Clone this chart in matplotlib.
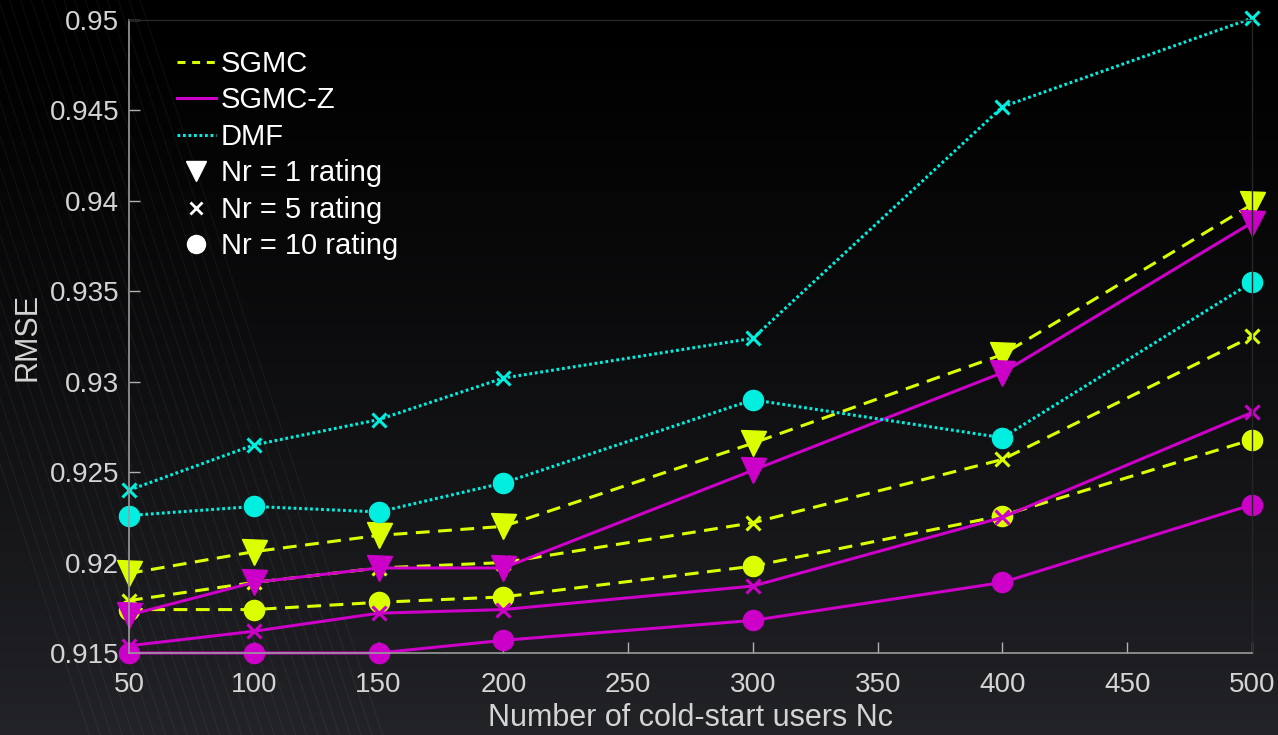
import numpy as np
import matplotlib.pyplot as plt
from matplotlib.lines import Line2D

plt.rcParams['font.family'] = ['Liberation Sans', 'DejaVu Sans']

# number of cold-start users
nc = [50, 100, 150, 200, 300, 400, 500]

# RMSE per method, for Nr = 1, 5, 10 ratings
sgmc_r1 = [0.9194, 0.9206, 0.9215, 0.9220, 0.9266, 0.9315, 0.9398]
sgmc_r5 = [0.9179, 0.9189, 0.9197, 0.9200, 0.9222, 0.9257, 0.9325]
sgmc_r10 = [0.9174, 0.9174, 0.9178, 0.9181, 0.9198, 0.9226, 0.9268]

sgmcz_r1 = [0.9171, 0.9189, 0.9197, 0.9197, 0.9251, 0.9305, 0.9388]
sgmcz_r5 = [0.9154, 0.9162, 0.9172, 0.9174, 0.9187, 0.9225, 0.9283]
sgmcz_r10 = [0.9150, 0.9150, 0.9150, 0.9157, 0.9168, 0.9189, 0.9232]

dmf_r5 = [0.9240, 0.9265, 0.9279, 0.9302, 0.9324, 0.9452, 0.9501]
dmf_r10 = [0.9226, 0.9231, 0.9228, 0.9244, 0.9290, 0.9269, 0.9355]

YELLOW = '#dcff00'
MAGENTA = '#cc00c8'
CYAN = '#00efe0'
TXT = '#d4d4d4'

fig = plt.figure(figsize=(12.78, 7.35), dpi=100)

# dark vertical gradient behind everything
bg = fig.add_axes([0, 0, 1, 1], zorder=-10)
grad = np.linspace(0, 1, 256).reshape(-1, 1) ** 1.3
top = np.array([0.0, 0.0, 0.0])
bot = np.array([0.135, 0.137, 0.155])
img = top + (bot - top) * grad[..., None]
bg.imshow(img, aspect='auto', extent=[0, 1, 0, 1], origin='upper')
# faint diagonal hatching on the left
for x0 in np.arange(-0.12, 0.115, 0.0085):
    bg.plot([x0, x0 + 0.19], [1, 0], color='white', alpha=0.045, lw=1.0)
bg.set_xlim(0, 1)
bg.set_ylim(0, 1)
bg.axis('off')

ax = fig.add_axes([0.1009, 0.1116, 0.8788, 0.8612])
ax.set_facecolor('none')

lw = 2.2
styles = [
    (YELLOW, '--', [(sgmc_r1, 'v'), (sgmc_r5, 'x'), (sgmc_r10, 'o')]),
    (MAGENTA, '-', [(sgmcz_r1, 'v'), (sgmcz_r5, 'x'), (sgmcz_r10, 'o')]),
    (CYAN, ':', [(dmf_r5, 'x'), (dmf_r10, 'o')]),
]
for color, ls, series in styles:
    for vals, mk in series:
        if mk == 'v':
            ms, mew = 18, 1
        elif mk == 'x':
            ms, mew = 9.5, 2.2
        else:
            ms, mew = 14.5, 1
        line, = ax.plot(nc, vals, color=color, ls=ls, lw=lw, marker=mk,
                        ms=ms, mew=mew, mfc=color, mec=color, clip_on=False)
        if ls == '--':
            line.set_dashes([4.5, 2.8])
        elif ls == ':':
            line.set_dashes([0.9, 0.9])

ax.set_xlim(50, 500)
ax.set_ylim(0.915, 0.95)
ax.set_xticks([50, 100, 150, 200, 250, 300, 350, 400, 450, 500])
ax.set_yticks([0.915, 0.92, 0.925, 0.93, 0.935, 0.94, 0.945, 0.95])
ax.set_yticklabels(['0.915', '0.92', '0.925', '0.93', '0.935', '0.94', '0.945', '0.95'])
ax.tick_params(direction='in', length=8, width=1, colors='#b0b0b0',
               labelcolor=TXT, labelsize=20)
ax.tick_params(axis='x', pad=14)
ax.tick_params(axis='y', pad=7)
for side in ['left', 'bottom']:
    ax.spines[side].set_color('#9a9a9a')
    ax.spines[side].set_linewidth(1.2)
for side in ['top', 'right']:
    ax.spines[side].set_color('#262626')
    ax.spines[side].set_linewidth(1.0)

ax.set_xlabel('Number of cold-start users Nc', fontsize=22, color=TXT, labelpad=3)
ax.set_ylabel('RMSE', fontsize=22, color=TXT, labelpad=5)

handles = [
    Line2D([], [], color=YELLOW, ls='--', lw=lw, dashes=[2.6, 2.2]),
    Line2D([], [], color=MAGENTA, ls='-', lw=lw),
    Line2D([], [], color=CYAN, ls=':', lw=lw, dashes=[0.9, 0.9]),
    Line2D([], [], color='white', ls='none', marker='v', ms=14.5),
    Line2D([], [], color='white', ls='none', marker='x', ms=8, mew=2),
    Line2D([], [], color='white', ls='none', marker='o', ms=13),
]
labels = ['SGMC', 'SGMC-Z', 'DMF', 'Nr = 1 rating', 'Nr = 5 rating', 'Nr = 10 rating']
leg = ax.legend(handles, labels, loc='upper left', bbox_to_anchor=(0.019, 0.994),
                frameon=False, fontsize=21, handlelength=1.35, handletextpad=0.17,
                labelspacing=0.29, labelcolor='white')

fig.savefig('out.png', dpi=100)
